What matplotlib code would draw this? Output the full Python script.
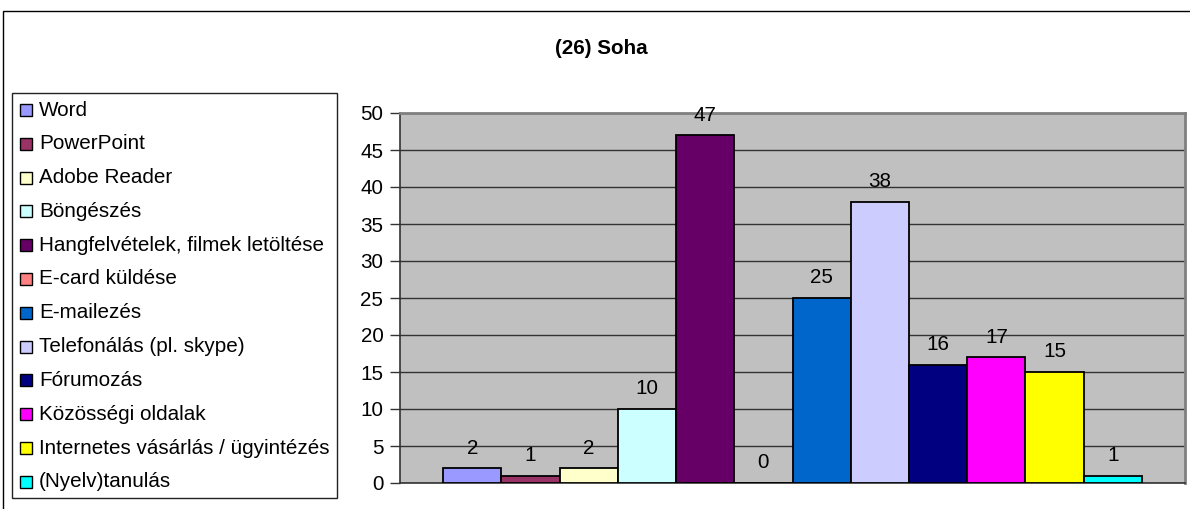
import matplotlib
matplotlib.use("Agg")
import matplotlib.pyplot as plt
from matplotlib.patches import Rectangle

plt.rcParams['font.family'] = ['Liberation Sans', 'DejaVu Sans']

title = "(26) Soha"
categories = [
    "Word",
    "PowerPoint",
    "Adobe Reader",
    "Böngészés",
    "Hangfelvételek, filmek letöltése",
    "E-card küldése",
    "E-mailezés",
    "Telefonálás (pl. skype)",
    "Fórumozás",
    "Közösségi oldalak",
    "Internetes vásárlás / ügyintézés",
    "(Nyelv)tanulás",
]
values = [2, 1, 2, 10, 47, 0, 25, 38, 16, 17, 15, 1]
colors = [
    "#9999FF", "#993366", "#FFFFCC", "#CCFFFF", "#660066", "#FF8080",
    "#0066CC", "#CCCCFF", "#000080", "#FF00FF", "#FFFF00", "#00FFFF",
]
y_ticks = [0, 5, 10, 15, 20, 25, 30, 35, 40, 45, 50]

W, H = 1190, 509
DPI = 100
FS = 14.9

fig = plt.figure(figsize=(W / DPI, H / DPI), dpi=DPI)
fig.patch.set_facecolor("white")


def fx(px):
    return px / W


def fy(py):
    return 1 - py / H


# chart frame (continues past the right and bottom edge)
fig.add_artist(Rectangle((fx(3), fy(H + 20)), fx(W + 20), fy(11) - fy(H + 20),
                         transform=fig.transFigure, facecolor="none",
                         edgecolor="#000000", linewidth=1.0))

fig.text(fx(601), fy(48), title, ha="center", va="center",
         fontsize=FS, fontweight="bold")

# plot area
left, right, top, bottom = 400, 1185, 113, 483
ax = fig.add_axes([fx(left), fy(bottom), fx(right - left), fy(top) - fy(bottom)])
ax.set_facecolor("#C0C0C0")

x = list(range(len(values)))
ax.bar(x, values, width=1.0, color=colors, edgecolor="black",
       linewidth=1.3, zorder=3)

for xi, v in zip(x, values):
    ax.annotate(str(v), (xi, v), xytext=(0, 14.5), textcoords="offset points",
                ha="center", va="center", fontsize=FS, zorder=4)

pad = 0.74
ax.set_xlim(-0.5 - pad, len(values) - 0.5 + pad)
ax.set_ylim(0, 50)
ax.set_yticks(y_ticks)
ax.set_yticklabels([str(t) for t in y_ticks], fontsize=FS)
ax.set_xticks([])
ax.yaxis.grid(True, color="#333333", linewidth=1.0, zorder=1)
ax.set_axisbelow(True)
ax.tick_params(axis="y", direction="out", length=7, width=1.0,
               color="#333333", pad=5)

for side in ("top", "right"):
    ax.spines[side].set_color("#808080")
    ax.spines[side].set_linewidth(2.0)
ax.spines["left"].set_color("#333333")
ax.spines["left"].set_linewidth(1.2)
ax.spines["bottom"].set_color("#333333")
ax.spines["bottom"].set_linewidth(1.2)

# legend box
leg_left, leg_top, leg_right, leg_bottom = 12, 93, 337, 498
fig.add_artist(Rectangle((fx(leg_left), fy(leg_bottom)),
                         fx(leg_right - leg_left), fy(leg_top) - fy(leg_bottom),
                         transform=fig.transFigure, facecolor="white",
                         edgecolor="#222222", linewidth=1.0, zorder=5))

row0, row_step = 110, 33.8
for i, (name, c) in enumerate(zip(categories, colors)):
    yc = row0 + i * row_step
    fig.add_artist(Rectangle((fx(20), fy(yc + 6)), fx(12), fy(yc - 6) - fy(yc + 6),
                             transform=fig.transFigure, facecolor=c,
                             edgecolor="black", linewidth=1.0, zorder=6))
    fig.text(fx(39), fy(yc), name, ha="left", va="center",
             fontsize=FS, zorder=6)

fig.savefig("out.png", dpi=DPI, facecolor="white")
